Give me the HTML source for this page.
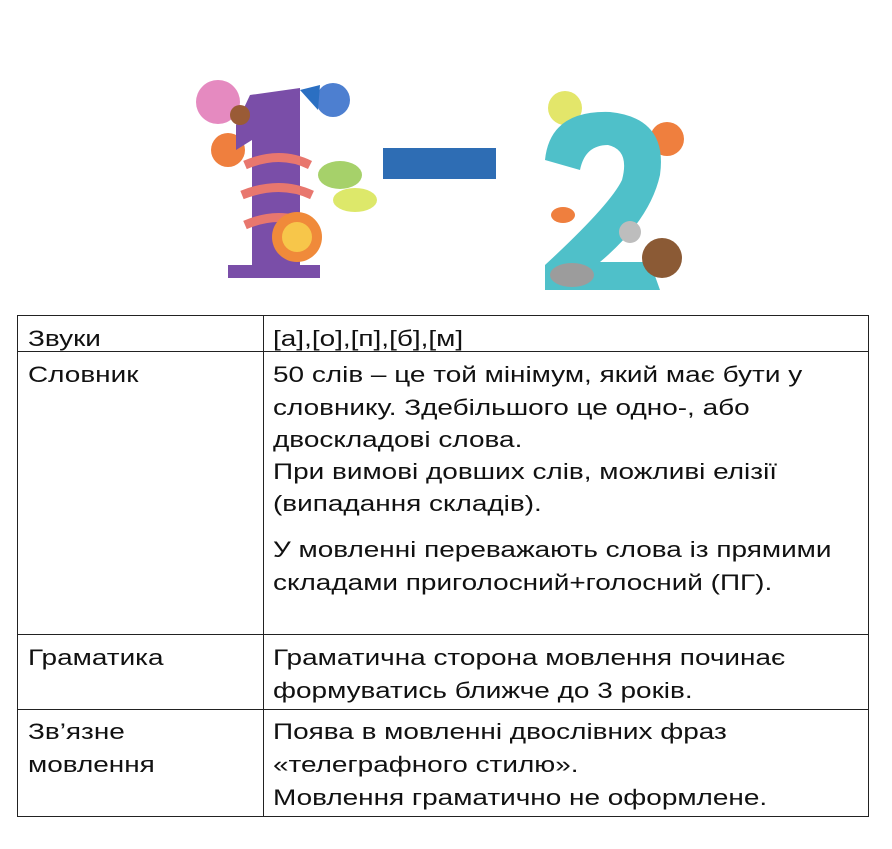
<!DOCTYPE html>
<html><head><meta charset="utf-8"><style>
body{margin:0;width:892px;height:849px;background:#fff;position:relative;overflow:hidden;font-family:"Liberation Sans","DejaVu Sans",sans-serif;}
.t{position:absolute;font-size:22px;color:#111;white-space:nowrap;line-height:24px;transform:scaleX(1.27);transform-origin:0 0}
.h{position:absolute;background:#222;height:1px}
.v{position:absolute;background:#222;width:1px}
</style></head><body>
<svg width="892" height="300" style="position:absolute;left:0;top:0">
<circle cx="218" cy="102" r="22" fill="#e58ac0"/>
<circle cx="333" cy="100" r="17" fill="#4d7fd0"/>
<circle cx="228" cy="150" r="17" fill="#ef7f3e"/>
<path d="M250 95 L300 88 L300 265 L320 265 L320 278 L228 278 L228 265 L252 265 L252 140 L236 150 L236 125 Z" fill="#7a4ea8"/>
<path d="M245 165 Q280 150 310 165 M242 195 Q280 180 312 195 M245 225 Q280 210 310 225" stroke="#e8776e" stroke-width="9" fill="none"/>
<path d="M300 90 L320 85 L318 110 Z" fill="#2b6fc2"/>
<ellipse cx="340" cy="175" rx="22" ry="14" fill="#a6d16a"/>
<ellipse cx="355" cy="200" rx="22" ry="12" fill="#dde86a"/>
<circle cx="297" cy="237" r="25" fill="#f08a3a"/>
<circle cx="297" cy="237" r="15" fill="#f7c64a"/>
<circle cx="240" cy="115" r="10" fill="#9a5b36"/>
<rect x="383" y="148" width="113" height="31" fill="#2e6db4"/>
<circle cx="565" cy="108" r="17" fill="#e3e66a"/>
<circle cx="667" cy="139" r="17" fill="#ef7f3e"/>
<path d="M545 160 Q550 110 610 112 Q668 118 660 175 Q650 220 600 262 L650 262 L660 290 L545 290 L545 265 Q610 205 622 180 Q630 150 608 145 Q585 145 580 170 Z" fill="#4fc0c9"/>
<ellipse cx="572" cy="275" rx="22" ry="12" fill="#9c9c9c"/>
<circle cx="662" cy="258" r="20" fill="#8b5a35"/>
<circle cx="630" cy="232" r="11" fill="#bdbdbd"/>
<ellipse cx="563" cy="215" rx="12" ry="8" fill="#ef7f3e"/>
</svg>
<div class="h" style="left:17px;top:315px;width:852px"></div>
<div class="h" style="left:17px;top:351px;width:852px"></div>
<div class="h" style="left:17px;top:634px;width:852px"></div>
<div class="h" style="left:17px;top:709px;width:852px"></div>
<div class="h" style="left:17px;top:816px;width:852px"></div>
<div class="v" style="left:17px;top:315px;height:502px"></div>
<div class="v" style="left:263px;top:315px;height:502px"></div>
<div class="v" style="left:868px;top:315px;height:502px"></div>

<div class="t" style="left:28px;top:327px">Звуки</div>
<div class="t" style="left:273px;top:327px">[а],[о],[п],[б],[м]</div>
<div class="t" style="left:28px;top:363px">Словник</div>
<div class="t" style="left:273px;top:363px">50 слів – це той мінімум, який має бути у</div>
<div class="t" style="left:273px;top:396px">словнику. Здебільшого це одно-,  або</div>
<div class="t" style="left:273px;top:428px">двоскладові слова.</div>
<div class="t" style="left:273px;top:460px">При вимові довших слів, можливі елізії</div>
<div class="t" style="left:273px;top:492px">(випадання складів).</div>
<div class="t" style="left:273px;top:538px">У мовленні переважають слова із прямими</div>
<div class="t" style="left:273px;top:571px">складами приголосний+голосний (ПГ).</div>
<div class="t" style="left:28px;top:646px">Граматика</div>
<div class="t" style="left:273px;top:646px">Граматична сторона  мовлення починає</div>
<div class="t" style="left:273px;top:679px">формуватись ближче до 3 років.</div>
<div class="t" style="left:28px;top:720px">Зв’язне</div>
<div class="t" style="left:28px;top:753px">мовлення</div>
<div class="t" style="left:273px;top:720px">Поява в мовленні двослівних фраз</div>
<div class="t" style="left:273px;top:753px">«телеграфного стилю».</div>
<div class="t" style="left:273px;top:786px">Мовлення граматично не оформлене.</div>
</body></html>
